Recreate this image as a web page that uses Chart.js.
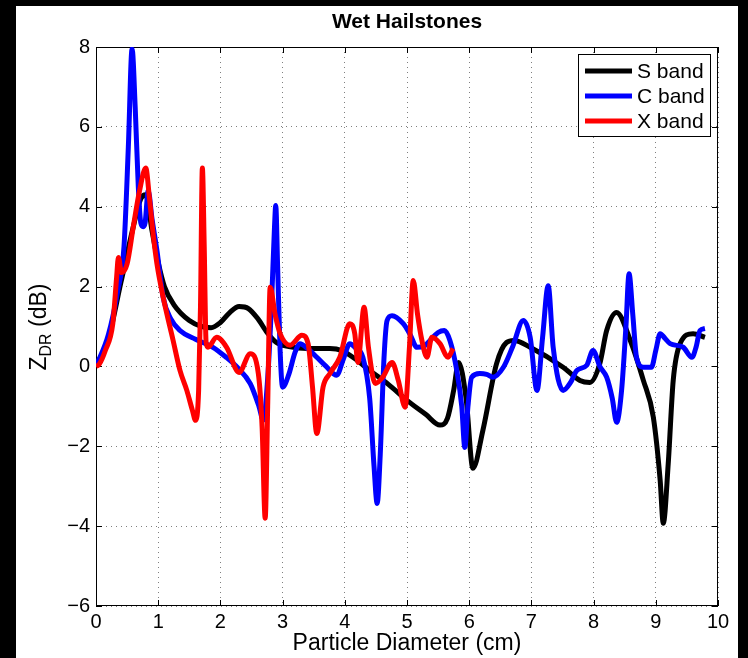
<!DOCTYPE html>
<html>
<head>
<meta charset="utf-8">
<script src="https://cdn.jsdelivr.net/npm/chart.js@4.4.1/dist/chart.umd.min.js"></script>
<style>
  html, body { margin: 0; padding: 0; background: #000; width: 748px; height: 658px; overflow: hidden; }
  #wrap { position: absolute; left: 16px; top: 6px; width: 722px; height: 652px; background: #fff; }
</style>
</head>
<body>
<div id="wrap"><canvas id="myChart" width="722" height="652"></canvas></div>
<script>
// axis ticks
const xTicks = [0, 1, 2, 3, 4, 5, 6, 7, 8, 9, 10];
const yTicks = [-6, -4, -2, 0, 2, 4, 6, 8];

// S band (black)
const sX = [0, 0.2, 0.4, 0.6, 0.72, 0.8, 0.9, 1.0, 1.1, 1.25, 1.5, 1.7, 1.85, 2.0, 2.15, 2.3, 2.45, 2.6, 2.75, 2.9,
  3.1, 3.4, 3.76, 3.95, 4.2, 4.4, 4.7, 5.0, 5.3, 5.53, 5.65, 5.75, 5.83, 5.95, 6.06, 6.22, 6.44, 6.6, 6.72,
  6.98, 7.51, 7.78, 7.94, 8.1, 8.21, 8.37, 8.59, 8.8, 8.96, 9.07, 9.12, 9.2, 9.28, 9.39, 9.6, 9.79];
const sY = [0, 0.7, 2.1, 3.5, 4.2, 4.3, 3.4, 2.6, 2.0, 1.55, 1.15, 1.0, 0.97, 1.1, 1.35, 1.5, 1.45, 1.2, 0.85, 0.6,
  0.5, 0.45, 0.45, 0.4, 0.15, -0.1, -0.45, -0.85, -1.2, -1.47, -1.3, -0.6, 0.1, -0.8, -2.55, -1.6, 0.07, 0.6, 0.65,
  0.48, -0.02, -0.35, -0.4, 0.07, 0.9, 1.35, 0.65, -0.35, -1.27, -2.85, -3.93, -2.43, -0.35, 0.57, 0.82, 0.73];

// C band (blue)
const cX = [0, 0.2, 0.35, 0.45, 0.52, 0.58, 0.63, 0.68, 0.72, 0.76, 0.79, 0.84, 0.9, 0.98, 1.08, 1.2, 1.35, 1.6,
  1.88, 2.1, 2.27, 2.48, 2.62, 2.69, 2.76, 2.82, 2.87, 2.89, 2.92, 2.96, 3.0, 3.1, 3.2, 3.28, 3.4, 3.55, 3.7, 3.87,
  3.98, 4.08, 4.18, 4.29, 4.4, 4.47, 4.52, 4.57, 4.63, 4.68, 4.76, 4.94, 5.05, 5.16, 5.27, 5.37, 5.5, 5.6, 5.69,
  5.8, 5.88, 5.93, 5.98, 6.04, 6.17, 6.28, 6.38, 6.55, 6.7, 6.87, 6.98, 7.09, 7.18, 7.27, 7.35, 7.51, 7.63, 7.73,
  7.89, 7.99, 8.1, 8.21, 8.3, 8.37, 8.45, 8.52, 8.57, 8.63, 8.69, 8.8, 8.93, 9.0, 9.07, 9.15, 9.23, 9.44, 9.58,
  9.65, 9.71, 9.79];
const cY = [0, 0.8, 1.9, 3.0, 5.5, 7.95, 6.5, 4.5, 3.6, 3.5, 3.6, 4.4, 3.7, 2.9, 1.73, 1.2, 0.9, 0.68,
  0.48, 0.22, -0.02, -0.43, -1.0, -1.35, -0.3, 1.5, 3.5, 4.03, 2.5, 0.4, -0.52, -0.2, 0.35, 0.57, 0.45, 0.23, 0.0, -0.22,
  0.2, 0.57, 0.45, 0.23, -0.8, -2.5, -3.43, -2.2, 0.2, 1.15, 1.27, 1.07, 0.8, 0.48, 0.5, 0.65, 0.85, 0.9, 0.65,
  -0.1, -1.0, -2.03, -1.0, -0.27, -0.18, -0.2, -0.27, -0.02, 0.5, 1.15, 0.73, -0.6, 0.73, 2.02, 0.48, -0.6, -0.4, -0.1,
  0.03, 0.4, 0.0, -0.27, -0.8, -1.4, -0.6, 1.0, 2.32, 1.3, 0.23, -0.02, -0.02, 0.4, 0.82, 0.7, 0.57, 0.48, 0.23,
  0.5, 0.9, 0.95];

// X band (red)
const xX = [0, 0.05, 0.15, 0.27, 0.33, 0.36, 0.41, 0.5, 0.6, 0.7, 0.8, 0.86, 0.92, 0.98, 1.08, 1.24, 1.35, 1.46,
  1.55, 1.6, 1.65, 1.68, 1.71, 1.74, 1.77, 1.8, 1.94, 2.1, 2.3, 2.48, 2.61, 2.67, 2.72, 2.76, 2.8, 2.88, 2.96, 3.12,
  3.31, 3.41, 3.48, 3.55, 3.65, 3.76, 3.92, 4.08, 4.16, 4.21, 4.31, 4.38, 4.49, 4.61, 4.76, 4.86, 4.97, 5.04, 5.1,
  5.17, 5.24, 5.32, 5.4, 5.53, 5.66, 5.74];
const xY = [0, 0.05, 0.4, 1.07, 2.2, 2.73, 2.35, 2.57, 3.5, 4.4, 4.97, 4.2, 3.3, 2.57, 1.73, 0.65, -0.1, -0.6,
  -1.1, -1.35, -0.6, 1.5, 4.97, 3.0, 0.6, 0.48, 0.73, 0.48, -0.15, 0.32, -0.18, -1.5, -3.8, -1.0, 1.98, 1.3, 0.82, 0.53,
  0.78, 0.57, -0.5, -1.68, -0.52, -0.18, 0.23, 1.07, 0.82, 0.1, 1.48, 0.48, -0.43, -0.27, 0.1, -0.35, -1.02, 0.5, 2.15,
  1.3, 0.65, 0.23, 0.73, 0.57, 0.23, 0.45];

const labels = ['S band', 'C band', 'X band'];
const colors = ['#000000', '#0000ff', '#ff0000'];

const FONT = "'Liberation Sans', Helvetica, Arial, sans-serif";

function toPoints(xs, ys) {
  return xs.map((x, i) => ({ x: x, y: ys[i] }));
}

function makeSet(i, xs, ys, order) {
  return {
    label: labels[i],
    data: toPoints(xs, ys),
    borderColor: colors[i],
    backgroundColor: colors[i],
    borderWidth: 5,
    pointRadius: 0,
    cubicInterpolationMode: 'monotone',
    order: order
  };
}

// frame, inward tick marks, title, y label and legend
const decor = {
  id: 'decor',
  beforeDatasetsDraw(chart) {
    const { ctx, chartArea: a, scales } = chart;
    ctx.save();
    ctx.strokeStyle = '#000';
    ctx.lineWidth = 1;
    ctx.strokeRect(a.left + 0.5, a.top + 0.5, a.right - a.left - 1, a.bottom - a.top - 1);
    ctx.beginPath();
    xTicks.forEach(v => {
      const px = Math.round(scales.x.getPixelForValue(v)) + 0.5;
      ctx.moveTo(px, a.bottom); ctx.lineTo(px, a.bottom - 6);
      ctx.moveTo(px, a.top); ctx.lineTo(px, a.top + 6);
    });
    yTicks.forEach(v => {
      const py = Math.round(scales.y.getPixelForValue(v)) + 0.5;
      ctx.moveTo(a.left, py); ctx.lineTo(a.left + 6, py);
      ctx.moveTo(a.right, py); ctx.lineTo(a.right - 6, py);
    });
    ctx.stroke();
    ctx.restore();
  },
  afterDraw(chart) {
    const { ctx, chartArea: a } = chart;
    ctx.save();
    ctx.fillStyle = '#000';

    // title
    ctx.font = 'bold 21px ' + FONT;
    ctx.textAlign = 'center';
    ctx.textBaseline = 'middle';
    ctx.fillText('Wet Hailstones', (a.left + a.right) / 2, 16);

    // y axis label with subscript
    ctx.translate(22, 321);
    ctx.rotate(-Math.PI / 2);
    ctx.textBaseline = 'alphabetic';
    ctx.textAlign = 'left';
    const big = '23px ' + FONT, small = '16px ' + FONT;
    ctx.font = big; const wZ = ctx.measureText('Z').width;
    ctx.font = small; const wSub = ctx.measureText('DR').width;
    ctx.font = big; const wRest = ctx.measureText(' (dB)').width;
    let x0 = -(wZ + wSub + wRest) / 2;
    ctx.font = big; ctx.fillText('Z', x0, 8);
    ctx.font = small; ctx.fillText('DR', x0 + wZ, 13);
    ctx.font = big; ctx.fillText(' (dB)', x0 + wZ + wSub, 8);
    ctx.setTransform(1, 0, 0, 1, 0, 0);

    // legend box
    const bw = 132, bh = 82;
    const bx = a.right - 8 - bw, by = a.top + 7;
    ctx.fillStyle = '#fff';
    ctx.fillRect(bx, by, bw, bh);
    ctx.strokeStyle = '#000';
    ctx.lineWidth = 1;
    ctx.strokeRect(bx + 0.5, by + 0.5, bw, bh);
    ctx.font = '21px ' + FONT;
    ctx.textAlign = 'left';
    ctx.textBaseline = 'middle';
    chart.data.datasets.forEach((ds, i) => {
      const ry = by + 17 + i * 25;
      ctx.strokeStyle = ds.borderColor;
      ctx.lineWidth = 5;
      ctx.beginPath();
      ctx.moveTo(bx + 7, ry); ctx.lineTo(bx + 54, ry);
      ctx.stroke();
      ctx.fillStyle = '#000';
      ctx.fillText(ds.label, bx + 59, ry + 1);
    });
    ctx.restore();
  }
};

const minus = v => String(v).replace('-', '\u2212');

const config = {
  type: 'line',
  data: {
    datasets: [
      makeSet(0, sX, sY, 2),
      makeSet(1, cX, cY, 1),
      makeSet(2, xX, xY, 0)
    ]
  },
  options: {
    responsive: false,
    animation: false,
    devicePixelRatio: 1,
    layout: { padding: { left: 0, right: 20, top: 41, bottom: 0 } },
    plugins: {
      legend: { display: false },
      tooltip: { enabled: false },
      title: { display: false }
    },
    scales: {
      x: {
        type: 'linear',
        min: 0,
        max: 10,
        afterFit: s => { s.height = 52; },
        afterBuildTicks: s => { s.ticks = xTicks.map(v => ({ value: v })); },
        ticks: { color: '#000', font: { family: FONT, size: 20 }, padding: 4, maxRotation: 0, callback: minus },
        grid: { color: 'rgba(0,0,0,0.5)', lineWidth: 1, drawTicks: false },
        border: { display: false, dash: [1, 4] },
        title: {
          display: true,
          text: 'Particle Diameter (cm)',
          color: '#000',
          font: { family: FONT, size: 23 },
          padding: { top: 0, bottom: 1 }
        }
      },
      y: {
        type: 'linear',
        min: -6,
        max: 8,
        afterFit: s => { s.width = 80; },
        afterBuildTicks: s => { s.ticks = yTicks.map(v => ({ value: v })); },
        ticks: { color: '#000', font: { family: FONT, size: 20 }, padding: 6, callback: minus },
        grid: { color: 'rgba(0,0,0,0.5)', lineWidth: 1, drawTicks: false },
        border: { display: false, dash: [1, 4] }
      }
    }
  },
  plugins: [decor]
};

const context = document.getElementById('myChart').getContext('2d');
const chart = new Chart(context, config);
</script>
</body>
</html>
